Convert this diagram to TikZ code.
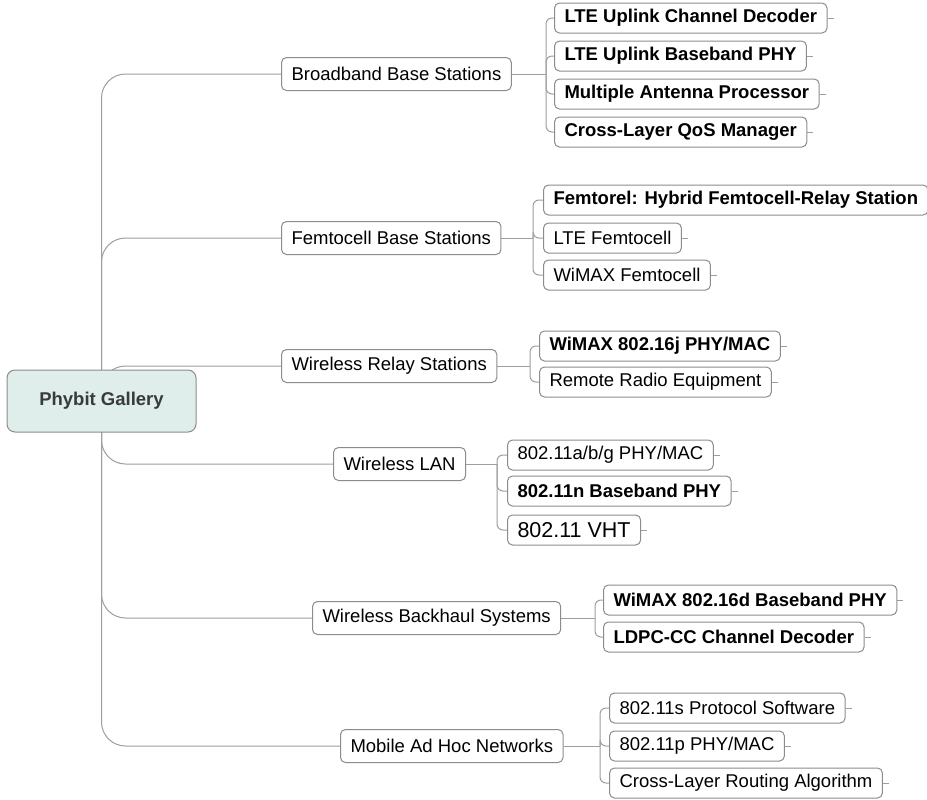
\documentclass[tikz,border=0pt]{standalone}
\usepackage{fontspec}
\setmainfont{Liberation Sans}
\usetikzlibrary{backgrounds}

\definecolor{linegray}{HTML}{9E9E9E}
\definecolor{boxgray}{HTML}{8C8C8C}
\definecolor{rootfill}{HTML}{DFEEEA}
\definecolor{roottext}{HTML}{3A3A3A}

\tikzset{
  topic/.style={draw=boxgray, line width=0.5pt, rounded corners=2.5pt, anchor=west,
    inner xsep=5pt, inner ysep=0pt, minimum height=16.5pt, font=\fontsize{9.25}{11}\selectfont},
  subtopic/.style={topic, minimum height=15pt},
  boldtopic/.style={subtopic, font=\fontsize{9.25}{11}\selectfont\bfseries},
  root/.style={draw=boxgray, line width=0.5pt, fill=rootfill, rounded corners=4pt,
    minimum width=94.5pt, minimum height=31pt, text=roottext,
    font=\fontsize{9.25}{11}\selectfont\bfseries},
  branch/.style={draw=linegray, line width=0.5pt, rounded corners=12pt},
  twig/.style={draw=linegray, line width=0.5pt, rounded corners=3pt},
}

\begin{document}
\begin{tikzpicture}[x=0.5pt, y=-0.5pt]

\useasboundingbox (0,0) rectangle (927,799);
\clip (0,0) rectangle (927,799);

\node [root] (gallery) at (101.5,401) {Phybit Gallery};

%%%%%%%%%%%%%%% main topics

\node [topic] (bbs) at (281,74) {Broadband Base Stations};
\node [topic] (fbs) at (281,238) {Femtocell Base Stations};
\node [topic] (wrs) at (281,366) {Wireless Relay Stations};
\node [topic] (wlan) at (333,464) {Wireless LAN};
\node [topic] (wbs) at (312,618) {Wireless Backhaul Systems};
\node [topic] (manet) at (340,746) {Mobile Ad Hoc Networks};

%%%%%%%%%%%%%%% sub topics

\node [boldtopic] (bbs1) at (554,18) {LTE Uplink Channel Decoder};
\node [boldtopic] (bbs2) at (554,56) {LTE Uplink Baseband PHY};
\node [boldtopic] (bbs3) at (554,94) {Multiple Antenna Processor};
\node [boldtopic] (bbs4) at (554,132) {Cross-Layer QoS Manager};

\node [boldtopic] (fbs1) at (543,200) {Femtorel: Hybrid Femtocell-Relay Station};
\node [subtopic] (fbs2) at (543,238) {LTE Femtocell};
\node [subtopic] (fbs3) at (543,275) {WiMAX Femtocell};

\node [boldtopic] (wrs1) at (539,346) {WiMAX 802.16j PHY/MAC};
\node [subtopic] (wrs2) at (539,382) {Remote Radio Equipment};

\node [subtopic] (wlan1) at (507,455) {802.11a/b/g PHY/MAC};
\node [boldtopic] (wlan2) at (507,491) {802.11n Baseband PHY};
\node [subtopic, font=\fontsize{10.75}{13}\selectfont] (wlan3) at (507,530) {802.11 VHT};

\node [boldtopic] (wbs1) at (603,600) {WiMAX 802.16d Baseband PHY};
\node [boldtopic] (wbs2) at (603,637) {LDPC-CC Channel Decoder};

\node [subtopic] (manet1) at (609,708) {802.11s Protocol Software};
\node [subtopic] (manet2) at (609,746) {802.11p PHY/MAC};
\node [subtopic] (manet3) at (609,783) {Cross-Layer Routing Algorithm};

%%%%%%%%%%%%%%% connectors

\begin{pgfonlayer}{background}
\fill [white] (0,0) rectangle (927,799);

\draw [branch] (gallery.center) |- (bbs.west);
\draw [branch] (gallery.center) |- (fbs.west);
\draw [branch] (gallery.center) |- (wrs.west);
\draw [branch] (gallery.center) |- (wlan.west);
\draw [branch] (gallery.center) |- (wbs.west);
\draw [branch] (gallery.center) |- (manet.west);

\coordinate (bbsj) at (546,74);
\coordinate (fbsj) at (533,238);
\coordinate (wrsj) at (530,366);
\coordinate (wlanj) at (497,464);
\coordinate (wbsj) at (595,618);
\coordinate (manetj) at (600,746);

\draw [twig] (bbs.east) -- (bbsj);
\draw [twig] (fbs.east) -- (fbsj);
\draw [twig] (wrs.east) -- (wrsj);
\draw [twig] (wlan.east) -- (wlanj);
\draw [twig] (wbs.east) -- (wbsj);
\draw [twig] (manet.east) -- (manetj);

\foreach \n in {1,2,3,4}
  \draw [twig] (bbsj) |- (bbs\n.west);
\foreach \n in {1,2,3}
  \draw [twig] (fbsj) |- (fbs\n.west);
\foreach \n in {1,2}
  \draw [twig] (wrsj) |- (wrs\n.west);
\foreach \n in {1,2,3}
  \draw [twig] (wlanj) |- (wlan\n.west);
\foreach \n in {1,2}
  \draw [twig] (wbsj) |- (wbs\n.west);
\foreach \n in {1,2,3}
  \draw [twig] (manetj) |- (manet\n.west);

% little stubs on the right
\foreach \c in {bbs1,bbs2,bbs3,bbs4,fbs2,fbs3,wrs1,wrs2,wlan1,wlan2,wlan3,wbs1,wbs2,manet1,manet2,manet3}
  \draw [twig] (\c.east) -- ++(6,0);
\end{pgfonlayer}

\end{tikzpicture}
\end{document}
